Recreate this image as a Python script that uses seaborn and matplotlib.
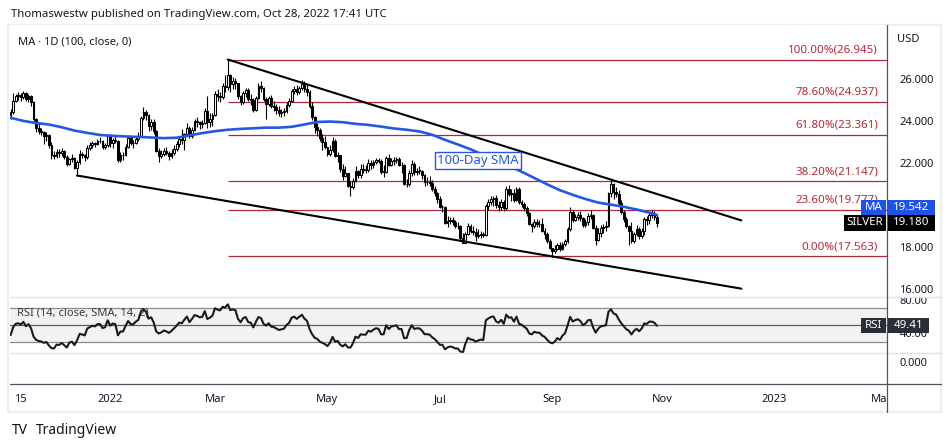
import numpy as np
import pandas as pd
import seaborn as sns
import matplotlib
matplotlib.use('Agg')
from matplotlib import pyplot as plt
from matplotlib.patches import Rectangle
from matplotlib.lines import Line2D
from matplotlib.transforms import Bbox, TransformedBbox

# silver daily candles, 2021-11-09 .. 2022-10-28 (business days), open = previous close
prior_close = [24.40, 24.20, 24.40, 24.60, 24.00, 24.10, 24.20, 23.90, 24.00, 23.50, 23.60, 24.10, 24.20, 24.30]

close = [
    24.45, 24.95, 25.20, 25.25, 25.15, 25.35, 25.05, 25.20, 24.90, 24.10, 23.70, 23.55, 23.50, 23.30, 23.35, 22.85,
    22.40, 22.35, 22.55, 22.50, 22.60, 22.30, 21.95, 22.20, 22.25, 21.80, 22.05, 22.45, 22.40, 22.30, 22.75, 22.85, 22.95, 22.90, 23.05, 23.05, 22.80, 22.85, 23.30,
    22.95, 23.10, 23.05, 22.15, 22.40, 22.40, 22.80, 23.20, 22.95, 22.95, 23.15, 23.30, 24.15, 24.45, 24.30, 23.80, 23.95, 23.55, 22.60, 22.35, 22.45,
    22.60, 22.50, 22.35, 22.50, 22.70, 22.90, 23.15, 23.10, 23.40, 23.70, 23.30, 23.60, 24.00, 23.95, 23.85, 23.90, 24.50, 23.95, 24.10, 24.30,
    25.30, 25.20, 25.15, 25.70, 25.65, 26.20, 25.80, 25.90, 25.85, 25.20, 24.90, 25.35, 25.50, 25.05, 25.00, 24.55, 25.10, 25.70, 25.60, 25.05, 24.85, 25.10, 24.75,
    24.70, 24.55, 24.40, 24.45, 24.50, 24.80, 24.95, 25.45, 25.55, 25.40, 25.60, 25.80, 25.55, 25.40, 24.75, 24.20, 23.75, 23.60, 23.20, 23.00, 22.80,
    22.45, 22.65, 23.05, 22.35, 22.40, 21.75, 21.40, 21.55, 20.90, 20.85, 21.15, 21.65, 21.45, 21.75, 21.70, 21.70, 22.00, 21.90, 22.05, 22.15, 22.10, 21.60,
    21.60, 22.25, 21.90, 22.10, 22.15, 22.20, 21.90, 21.90, 21.00, 21.00, 21.55, 21.95, 21.60, 21.65, 21.65, 21.45, 21.10, 21.10, 21.05, 20.80, 20.60, 20.30,
    19.90, 19.90, 19.15, 19.25, 19.30, 19.20, 19.00, 19.00, 18.45, 18.20, 18.65, 19.00, 18.80, 18.75, 18.55, 18.60, 18.65, 18.60, 19.95, 20.15, 20.30,
    20.35, 20.00, 19.90, 20.15, 19.85, 20.80, 20.55, 20.60, 20.25, 20.80, 20.15, 20.05, 19.85, 19.65, 19.10, 19.00, 19.20, 19.10, 19.10, 18.80, 18.65, 18.30, 17.95,
    17.80, 17.90, 18.10, 17.90, 18.15, 18.30, 18.85, 19.70, 19.30, 19.45, 19.55, 19.40, 19.05, 19.20, 19.50, 19.55, 18.90, 18.35, 18.70, 18.90, 18.95, 19.00,
    20.60, 21.00, 20.65, 20.55, 20.10, 19.70, 19.35, 19.00, 18.80, 18.30, 18.65, 18.85, 18.55, 18.80, 19.35, 19.30, 19.55, 19.55, 19.45, 19.18,
]
high = [
    24.60, 25.35, 25.30, 25.40, 25.35, 25.45, 25.40, 25.30, 25.25, 24.95, 24.15, 23.90, 23.70, 23.55, 23.50, 23.40,
    23.00, 22.60, 22.70, 22.70, 22.75, 22.65, 22.40, 22.25, 22.45, 22.30, 22.15, 22.65, 22.55, 22.45, 22.85, 23.00, 23.05, 23.00, 23.15, 23.25, 23.10, 22.95, 23.35,
    23.40, 23.20, 23.35, 23.10, 22.55, 22.55, 22.90, 23.35, 23.30, 23.10, 23.25, 23.50, 24.25, 24.70, 24.55, 24.35, 24.10, 24.10, 23.60, 22.75, 22.65,
    22.75, 22.80, 22.60, 22.70, 22.85, 23.05, 23.30, 23.65, 23.45, 23.90, 23.80, 23.75, 24.10, 24.20, 24.00, 24.05, 24.65, 25.20, 24.40, 24.40,
    25.45, 25.55, 25.40, 25.85, 26.20, 26.94, 26.25, 26.10, 26.05, 25.85, 25.25, 25.45, 25.60, 25.60, 25.30, 25.10, 25.20, 25.85, 25.90, 25.65, 25.15, 25.20, 25.25,
    24.95, 24.85, 24.75, 24.60, 24.65, 24.90, 25.10, 25.55, 25.70, 25.75, 25.70, 25.95, 25.90, 25.80, 25.50, 24.90, 24.25, 23.90, 23.70, 23.40, 23.30,
    22.80, 22.85, 23.25, 23.15, 22.55, 22.40, 21.95, 21.85, 21.55, 21.15, 21.30, 21.85, 21.70, 21.95, 21.95, 21.90, 22.20, 22.15, 22.15, 22.25, 22.25, 22.20,
    21.90, 22.35, 22.45, 22.25, 22.30, 22.30, 22.30, 22.05, 21.95, 21.25, 21.70, 22.15, 22.05, 21.80, 21.85, 21.70, 21.50, 21.35, 21.40, 21.20, 20.90, 20.65,
    20.45, 20.00, 19.95, 19.50, 19.45, 19.45, 19.30, 19.20, 19.05, 18.70, 18.75, 19.15, 19.10, 19.00, 18.90, 18.85, 18.80, 18.75, 20.05, 20.30, 20.45,
    20.45, 20.50, 20.20, 20.30, 20.25, 20.90, 20.95, 20.80, 20.80, 20.85, 20.85, 20.25, 20.15, 19.95, 19.70, 19.15, 19.35, 19.35, 19.30, 19.40, 18.90, 18.75, 18.40,
    17.95, 18.10, 18.20, 18.25, 18.25, 18.40, 18.95, 19.90, 19.80, 19.60, 19.70, 19.75, 19.45, 19.35, 19.65, 19.80, 19.60, 19.05, 18.90, 19.05, 19.10, 19.25,
    20.65, 21.24, 21.05, 20.85, 20.75, 20.25, 19.80, 19.45, 19.05, 19.20, 18.75, 19.05, 18.95, 18.90, 19.45, 19.50, 19.65, 19.80, 19.75, 19.60,
]
low = [
    24.10, 24.35, 24.90, 25.00, 24.95, 25.05, 24.95, 24.90, 24.75, 24.00, 23.50, 23.40, 23.35, 22.90, 23.05, 22.75,
    22.20, 22.20, 22.25, 22.30, 22.35, 22.20, 21.85, 21.90, 22.05, 21.75, 21.42, 21.95, 22.25, 22.10, 22.20, 22.65, 22.75, 22.80, 22.85, 22.95, 22.70, 22.70, 22.80,
    22.80, 22.75, 22.95, 22.05, 22.05, 22.15, 22.35, 22.75, 22.85, 22.75, 22.90, 23.05, 23.25, 24.05, 24.05, 23.55, 23.60, 23.40, 22.55, 22.05, 22.25,
    22.35, 22.40, 22.15, 22.25, 22.40, 22.60, 22.80, 22.90, 22.65, 23.30, 23.20, 23.20, 23.55, 23.75, 23.65, 23.70, 23.85, 23.70, 23.75, 23.80,
    24.25, 24.95, 24.90, 25.05, 25.40, 25.50, 25.40, 25.55, 25.55, 25.05, 24.80, 24.85, 25.15, 24.95, 24.80, 24.45, 24.50, 25.05, 25.40, 24.95, 24.10, 24.75, 24.65,
    24.50, 24.35, 24.25, 24.20, 24.25, 24.40, 24.70, 24.90, 25.30, 25.25, 25.30, 25.50, 25.40, 25.20, 24.65, 24.05, 23.45, 23.30, 23.05, 22.65, 22.70,
    22.35, 22.35, 22.55, 22.30, 22.05, 21.60, 21.20, 21.35, 20.85, 20.45, 20.80, 21.10, 21.30, 21.30, 21.55, 21.55, 21.60, 21.75, 21.80, 21.95, 22.00, 21.50,
    21.35, 21.55, 21.85, 21.85, 21.90, 22.00, 21.85, 21.55, 20.95, 20.85, 20.90, 21.40, 21.45, 21.45, 21.50, 21.25, 20.90, 20.95, 20.90, 20.70, 20.45, 20.10,
    19.85, 19.70, 19.10, 18.95, 19.10, 19.05, 18.90, 18.85, 18.32, 18.28, 18.35, 18.60, 18.70, 18.60, 18.30, 18.45, 18.45, 18.50, 18.55, 19.80, 20.00,
    19.95, 19.85, 19.75, 19.80, 19.75, 19.80, 20.45, 20.20, 20.15, 20.20, 20.05, 19.90, 19.75, 19.50, 19.05, 18.75, 18.90, 18.95, 18.95, 18.75, 18.40, 18.20, 17.90,
    17.56, 17.75, 17.85, 17.80, 17.85, 18.05, 18.20, 18.80, 19.20, 19.25, 19.30, 19.25, 18.95, 18.95, 19.05, 19.35, 18.85, 18.10, 18.30, 18.50, 18.70, 18.80,
    18.95, 20.40, 20.30, 20.40, 19.95, 19.60, 19.20, 18.90, 18.10, 18.20, 18.20, 18.55, 18.40, 18.45, 18.60, 19.05, 19.10, 19.40, 19.30, 18.95,
]

# 100-day SMA read every 5th bar
sma_bar = list(range(0, 251, 5)) + [253]
sma_value = [24.17, 24.02, 23.92, 23.85, 23.72, 23.56, 23.45, 23.35, 23.31, 23.28,
             23.26, 23.23, 23.20, 23.22, 23.33, 23.44, 23.53, 23.60, 23.64, 23.67,
             23.70, 23.70, 23.74, 23.85, 23.97, 23.99, 23.96, 23.88, 23.83, 23.75,
             23.66, 23.60, 23.52, 23.36, 23.12, 22.90, 22.67, 22.40, 22.15, 21.88,
             21.60, 21.30, 21.00, 20.72, 20.50, 20.30, 20.13, 20.03, 19.93, 19.80,
             19.65, 19.54]

fib_pct = ['100.00%', '78.60%', '61.80%', '38.20%', '23.60%', '0.00%']
fib_price = [26.945, 24.937, 23.361, 21.147, 19.777, 17.563]
fib_start = '2022-03-08'

upper_trend_dates = ['2022-03-08', '2022-12-14']
upper_trend_price = [26.945, 19.28]
lower_trend_dates = ['2021-12-15', '2022-12-14']
lower_trend_price = [21.42, 16.03]

tick_dates = ['2021-11-15', '2022-01-03', '2022-03-01', '2022-05-02', '2022-07-01',
              '2022-09-01', '2022-11-01', '2023-01-02', '2023-03-01']
tick_labels = ['15', '2022', 'Mar', 'May', 'Jul', 'Sep', 'Nov', '2023', 'Mar']
price_ticks = [16, 18, 22, 24, 26]  # 20.000 sits under the MA/SILVER tags

last_price = 19.180
last_ma = 19.542
last_rsi = 49.41

sns.set_style('white')
plt.rcParams['font.family'] = ['Noto Sans', 'DejaVu Sans']

RED = '#b2283b'
BLUE = '#2458e0'
INK = '#131722'

days = pd.bdate_range('2021-11-09', '2023-03-31')
n = len(close)
assert len(high) == n and len(low) == n == 254, (len(close), len(high), len(low))


def bar_of(d):
    return days.get_loc(pd.Timestamp(d))


df = pd.DataFrame({'date': days[:n], 'close': close, 'high': high, 'low': low})
df['bar'] = np.arange(n)
df['open'] = [prior_close[-1]] + close[:-1]
df['high'] = df[['high', 'open', 'close']].max(axis=1)
df['low'] = df[['low', 'open', 'close']].min(axis=1)

allc = pd.Series(prior_close + close)
delta = allc.diff()
gain = delta.clip(lower=0).ewm(alpha=1 / 14, adjust=False).mean()
loss = (-delta.clip(upper=0)).ewm(alpha=1 / 14, adjust=False).mean()
rsi = (100 - 100 / (1 + gain / loss)).iloc[len(prior_close):].to_numpy()
df['rsi'] = rsi

W, H = 951, 447
fig = plt.figure(figsize=(W / 100, H / 100), dpi=100)


def fx(px):
    return px / W


def fy(py):
    return 1 - py / H


L, R = 10, 887
xlim = ((L - 10.6) / 2.555, (R - 10.6) / 2.555)

ax = fig.add_axes([fx(L), fy(296), fx(R) - fx(L), fy(25) - fy(296)])
rax = fig.add_axes([fx(L), fy(353), fx(R) - fx(L), fy(296) - fy(353)])
eax = fig.add_axes([fx(L), fy(384), fx(R) - fx(L), fy(353) - fy(384)])
for a in (ax, rax, eax):
    for s in a.spines.values():
        s.set_visible(False)
    a.set_xlim(*xlim)

# candles
up = df['close'] >= df['open']
body = (df['close'] - df['open']).abs().clip(lower=0.02)
bottom = df[['open', 'close']].min(axis=1)
ax.vlines(df['bar'], df['low'], df['high'], color='black', lw=0.8, zorder=3)
ax.bar(df['bar'][up], body[up], bottom=bottom[up], width=0.7, facecolor='white',
       edgecolor='black', lw=0.75, zorder=4)
ax.bar(df['bar'][~up], body[~up], bottom=bottom[~up], width=0.7, facecolor='black',
       edgecolor='black', lw=0.75, zorder=4)

# moving average
sns.lineplot(x=sma_bar, y=sma_value, ax=ax, color=BLUE, lw=1.9, zorder=5)
ax.text(183, 22.13, '100-Day SMA', color=BLUE, fontsize=9.5, ha='center', va='center', zorder=7,
        bbox=dict(boxstyle='square,pad=0.18', fc='white', ec=BLUE, lw=1))

# fibonacci retracement
fs = bar_of(fib_start)
for pct, p in zip(fib_pct, fib_price):
    ax.hlines(p, fs, xlim[1], color=RED, lw=0.9, zorder=2)
    ax.annotate(f'{pct}({p:.3f})', xy=((878 - L) / (R - L), p), xycoords=('axes fraction', 'data'),
                xytext=(0, 3), textcoords='offset points', ha='right', va='bottom',
                color=RED, fontsize=8.3, zorder=6)

# channel lines
ax.plot([bar_of(d) for d in upper_trend_dates], upper_trend_price, color='black', lw=1.5, zorder=6)
ax.plot([bar_of(d) for d in lower_trend_dates], lower_trend_price, color='black', lw=1.5, zorder=6)

ax.set_ylim(15.68, 28.59)
ax.yaxis.tick_right()
ax.set_yticks(price_ticks, [f'{t:.3f}' for t in price_ticks])
ax.tick_params(axis='y', length=0, pad=9, labelsize=8, labelcolor=INK)
ax.set_xticks([])
ax.set_xlabel('')
ax.set_ylabel('')

# RSI pane
rax.axhspan(30, 70, color='#f2f2f2', zorder=0, lw=0)
rax.axhline(70, color='#8c8c8c', lw=0.9, zorder=1)
rax.axhline(30, color='#8c8c8c', lw=0.9, zorder=1)
rax.axhline(50, color='#5e5e5e', lw=0.9, zorder=1)
sns.lineplot(x=df['bar'], y=df['rsi'], ax=rax, color='#1a1a1a', lw=1.5, zorder=3)
rax.text(0.008, 0.7, 'RSI (14, close, SMA, 14, 2)', transform=rax.transAxes, fontsize=8,
         color='#333a45', va='center', zorder=2)
rax.set_ylim(16.7, 84.3)
rax.yaxis.tick_right()
rax.set_yticks([80, 40], ['80.00', '40.00'])
rax.tick_params(axis='y', length=0, pad=9, labelsize=8, labelcolor=INK)
rax.set_xticks([])
rax.set_xlabel('')
rax.set_ylabel('')
clip_r = TransformedBbox(Bbox([[fx(R), fy(353)], [1, fy(297)]]), fig.transFigure)
for lbl in rax.get_yticklabels():
    lbl.set_clip_box(clip_r)
    lbl.set_clip_on(True)

# empty pane + time axis
eax.set_ylim(-0.719, 0.281)
eax.yaxis.tick_right()
eax.set_yticks([0], ['0.000'])
eax.tick_params(axis='y', length=0, pad=9, labelsize=8, labelcolor=INK)
eax.set_xticks([bar_of(d) for d in tick_dates], tick_labels)
eax.tick_params(axis='x', length=0, pad=7, labelsize=8, labelcolor=INK)
clip_x = TransformedBbox(Bbox([[fx(L), 0], [fx(R), 1]]), fig.transFigure)
for lbl in eax.get_xticklabels():
    if lbl.get_text() in ('2022', '2023'):
        lbl.set_fontweight('bold')
    lbl.set_clip_box(clip_x)
    lbl.set_clip_on(True)

# frame and pane separators
fig.add_artist(Rectangle((fx(8), fy(412)), fx(941) - fx(8), fy(25) - fy(412), transform=fig.transFigure,
                         fill=False, ec='#eceef3', lw=1.6, zorder=0))
fig.add_artist(Line2D([fx(L), fx(941)], [fy(296.5)] * 2, color='#e0e3eb', lw=1, zorder=5))
fig.add_artist(Line2D([fx(L), fx(941)], [fy(353)] * 2, color='#e0e3eb', lw=1, zorder=5))
fig.add_artist(Line2D([fx(L), fx(941)], [fy(384)] * 2, color='#50535e', lw=0.9, zorder=5))
fig.add_artist(Line2D([fx(R), fx(R)], [fy(25), fy(412)], color='#50535e', lw=0.9, zorder=5))


def tag(x0, x1, yc, h, fc, text):
    fig.add_artist(Rectangle((fx(x0), fy(yc + h / 2)), fx(x1) - fx(x0), h / H,
                             transform=fig.transFigure, fc=fc, ec='none', zorder=10))
    fig.text(fx((x0 + x1) / 2), fy(yc), text, ha='center', va='center', color='white',
             fontsize=8.3, fontweight='bold', zorder=11)


def px_y(axis, v):
    return H - axis.transData.transform((0, v))[1]


y_sil = px_y(ax, last_price)
tag(844, 886, y_sil, 16, '#000000', 'SILVER')
tag(887.5, 935, y_sil, 16, '#000000', f'{last_price:.3f}')
tag(861, 886, y_sil - 15.5, 15, '#1e53e5', 'MA')
tag(887.5, 935, y_sil - 15.5, 15, '#1e53e5', f'{last_ma:.3f}')
y_rsi = px_y(rax, last_rsi)
tag(861, 886, y_rsi, 15, '#2a2e39', 'RSI')
tag(887.5, 929, y_rsi, 15, '#2a2e39', f'{last_rsi:.2f}')

# header / footer texts
fig.text(fx(11), fy(15), 'Thomaswestw published on TradingView.com, Oct 28, 2022 17:41 UTC',
         fontsize=8.2, color=INK, va='center')
fig.text(fx(18), fy(42), 'MA · 1D (100, close, 0)', fontsize=8, color=INK, va='center')
fig.text(fx(897), fy(40), 'USD', fontsize=8, color=INK, va='center')
fig.text(fx(12), fy(431), 'TV', fontsize=10, fontweight='heavy', color=INK, va='center')
fig.text(fx(36), fy(431), 'TradingView', fontsize=10, color=INK, va='center')

plt.savefig('out.png', dpi=100)
